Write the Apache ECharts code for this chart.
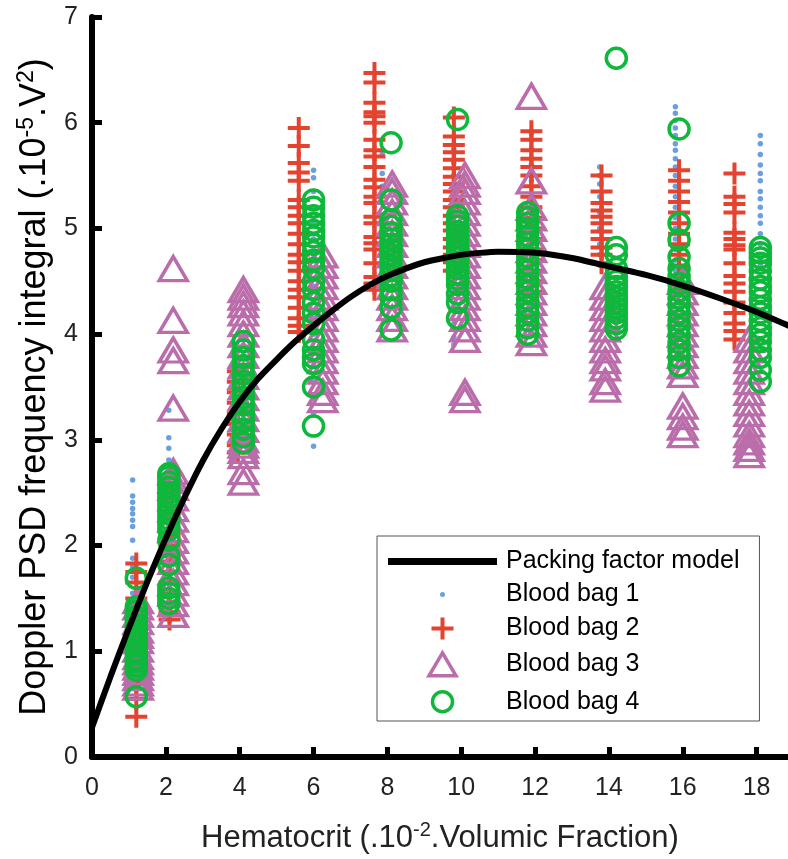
<!DOCTYPE html>
<html>
<head>
<meta charset="utf-8">
<script src="https://cdn.jsdelivr.net/npm/echarts@6/dist/echarts.min.js"></script>
<style>
html,body{margin:0;padding:0;background:#fff;}
#chart{width:788px;height:859px;}
</style>
</head>
<body>
<div id="chart"></div>
<script>
// ---- Data ----
const xTicks = [0, 2, 4, 6, 8, 10, 12, 14, 16, 18];
const yTicks = [0, 1, 2, 3, 4, 5, 6, 7];

const modelX = [0, 0.5, 1, 1.5, 2, 2.5, 3, 3.5, 4, 4.5, 5, 5.5, 6, 6.5, 7, 7.5, 8, 9, 10, 11, 12, 13, 14, 15, 16, 17, 18, 19];
const modelY = [0.28, 0.76, 1.22, 1.66, 2.07, 2.45, 2.8, 3.1, 3.36, 3.58, 3.76, 3.93, 4.08, 4.22, 4.35, 4.46, 4.55, 4.68, 4.75, 4.78, 4.77, 4.72, 4.64, 4.56, 4.46, 4.34, 4.21, 4.06];

const bag1X = [1.1, 2.08, 4.1, 6.0, 7.86, 9.8, 11.9, 13.75, 15.8, 18.1];
const bag1Y = [
  [2.62, 2.47, 2.41, 2.35, 2.3, 2.24, 2.18, 2.05, 1.88, 1.8, 1.7, 1.55, 1.4, 1.3, 1.2, 1.1, 1.0, 0.9],
  [3.28, 3.02, 2.92, 2.81, 2.7, 2.6, 2.5, 2.4, 2.3, 2.2, 2.1, 2.0, 1.9, 1.8],
  [4.2, 4.1, 3.95, 3.8, 3.65, 3.5, 3.35, 3.2, 3.05, 2.98],
  [5.55, 5.48, 5.35, 5.2, 5.05, 4.9, 4.75, 4.6, 4.45, 4.3, 4.15, 4.0, 3.85, 3.7, 3.55, 3.4, 3.25, 2.94],
  [5.71, 5.52, 5.4, 5.25, 5.1, 4.95, 4.8, 4.65, 4.5, 4.35],
  [5.75, 5.62, 5.5, 5.4, 5.3, 5.15, 5.0, 4.85, 4.7, 4.55, 4.4, 4.25, 4.1, 3.97, 3.9],
  [5.9, 5.75, 5.6, 5.45, 5.3, 5.15, 5.0, 4.85, 4.7, 4.55, 4.4, 4.25, 4.1],
  [5.58, 5.5, 5.42, 5.3, 5.15, 5.0, 4.85, 4.75, 4.65],
  [6.15, 6.09, 6.02, 5.95, 5.88, 5.8, 5.74, 5.66, 5.58, 5.5, 5.4, 5.3, 5.2, 5.1, 5.0, 4.9, 4.8, 4.7, 4.6, 4.5],
  [5.88, 5.8, 5.7, 5.6, 5.52, 5.45, 5.35, 5.28, 5.2, 5.12, 5.05, 4.95, 4.85, 4.75, 4.65]
];

const bag2X = [1.2, 2.1, 3.95, 5.6, 7.65, 9.8, 11.9, 13.8, 15.9, 17.4];
const bag2Y = [
  [1.83, 1.75, 1.65, 1.5, 1.4, 1.3, 1.2, 1.1, 1.0, 0.9, 0.8, 0.7, 0.55, 0.38],
  [2.65, 2.5, 2.3, 2.1, 2.0, 1.9, 1.85, 1.75, 1.65, 1.55, 1.45, 1.37, 1.3],
  [3.65, 3.55, 3.45, 3.35, 3.25, 3.15, 3.05, 2.95, 2.88],
  [5.95, 5.78, 5.62, 5.53, 5.45, 5.27, 5.2, 5.12, 5.05, 4.95, 4.85, 4.75, 4.68, 4.6, 4.5, 4.42, 4.35, 4.25, 4.15, 4.08, 4.02],
  [6.47, 6.38, 6.19, 6.1, 6.06, 6.0, 5.84, 5.74, 5.68, 5.58, 5.46, 5.39, 5.3, 5.24, 5.11, 5.05, 4.92, 4.86, 4.8, 4.67, 4.54, 4.48, 4.42],
  [6.05, 5.87, 5.79, 5.72, 5.65, 5.57, 5.49, 5.42, 5.35, 5.27, 5.2, 5.12, 5.05, 4.98, 4.9, 4.82, 4.75, 4.68, 4.6],
  [5.92, 5.84, 5.74, 5.66, 5.58, 5.5, 5.4, 5.3, 5.2, 5.1, 5.0, 4.9, 4.8, 4.7, 4.6, 4.5, 4.4],
  [5.5, 5.35, 5.24, 5.17, 5.11, 5.05, 4.97, 4.9, 4.82, 4.75, 4.67],
  [5.55, 5.45, 5.35, 5.25, 5.15, 5.05, 4.95, 4.85, 4.75, 4.65, 4.55, 4.45],
  [5.52, 5.3, 5.23, 5.15, 4.96, 4.9, 4.84, 4.8, 4.67, 4.55, 4.48, 4.4, 4.3, 4.2, 4.1, 4.03, 3.95]
];

const bag3X = [1.25, 2.2, 4.1, 6.25, 8.13, 10.1, 11.9, 13.9, 16.0, 17.8];
const bag3Y = [
  [1.48, 1.42, 1.35, 1.28, 1.2, 1.15, 1.1, 1.02, 0.95, 0.9, 0.85, 0.8, 0.75, 0.7, 0.66],
  [4.62, 4.13, 3.85, 3.75, 3.3, 2.7, 2.62, 2.55, 2.45, 2.35, 2.25, 2.15, 2.05, 1.95, 1.85, 1.75, 1.65, 1.55, 1.45, 1.35],
  [4.42, 4.35, 4.28, 4.2, 4.1, 4.0, 3.9, 3.8, 3.7, 3.6, 3.5, 3.4, 3.3, 3.2, 3.1, 3.0, 2.95, 2.9, 2.85, 2.7, 2.6],
  [4.75, 4.65, 4.55, 4.45, 4.35, 4.25, 4.15, 4.05, 3.95, 3.85, 3.75, 3.65, 3.55, 3.45, 3.38],
  [5.42, 5.35, 5.25, 5.15, 5.05, 4.95, 4.85, 4.75, 4.65, 4.55, 4.45, 4.35, 4.25, 4.15, 4.05],
  [5.5, 5.42, 5.35, 5.25, 5.15, 5.05, 4.95, 4.85, 4.75, 4.65, 4.55, 4.45, 4.35, 4.25, 4.15, 4.05, 3.95, 3.45, 3.38],
  [6.25, 5.45, 5.2, 5.1, 5.0, 4.9, 4.8, 4.7, 4.6, 4.5, 4.4, 4.3, 4.2, 4.1, 4.0, 3.92],
  [4.45, 4.35, 4.25, 4.15, 4.05, 3.95, 3.85, 3.75, 3.68, 3.55, 3.48],
  [4.5, 4.4, 4.3, 4.2, 4.1, 4.0, 3.9, 3.8, 3.7, 3.62, 3.32, 3.22, 3.12, 3.05],
  [3.95, 3.85, 3.75, 3.65, 3.55, 3.45, 3.35, 3.25, 3.15, 3.05, 2.98, 2.92, 2.86]
];

const bag4X = [1.2, 2.08, 4.1, 6.0, 8.1, 9.9, 11.8, 14.2, 15.9, 18.1];
const bag4Y = [
  [1.69, 1.42, 1.38, 1.33, 1.3, 1.25, 1.2, 1.17, 1.12, 1.08, 1.05, 1.0, 0.97, 0.93, 0.9, 0.86, 0.82, 0.57],
  [2.68, 2.65, 2.6, 2.55, 2.5, 2.45, 2.4, 2.35, 2.3, 2.25, 2.2, 2.15, 2.05, 1.9, 1.82, 1.6, 1.55, 1.5, 1.45],
  [3.93, 3.85, 3.78, 3.7, 3.62, 3.55, 3.48, 3.4, 3.33, 3.25, 3.18, 3.1, 3.03, 2.97],
  [5.27, 5.2, 5.12, 5.05, 4.98, 4.92, 4.85, 4.78, 4.7, 4.62, 4.5, 4.42, 4.3, 4.2, 4.1, 3.95, 3.85, 3.78, 3.72, 3.5, 3.13],
  [5.81, 5.27, 5.08, 5.02, 4.96, 4.9, 4.85, 4.8, 4.75, 4.7, 4.65, 4.6, 4.55, 4.5, 4.42, 4.35, 4.25, 4.04],
  [6.03, 5.12, 5.07, 5.02, 4.97, 4.92, 4.87, 4.82, 4.77, 4.72, 4.67, 4.62, 4.57, 4.52, 4.47, 4.38, 4.3, 4.15],
  [5.15, 5.1, 5.05, 5.0, 4.93, 4.86, 4.8, 4.73, 4.66, 4.6, 4.53, 4.46, 4.4, 4.33, 4.26, 4.2, 4.13, 4.06, 4.0],
  [6.61, 4.82, 4.75, 4.62, 4.55, 4.5, 4.45, 4.4, 4.35, 4.3, 4.25, 4.2, 4.15, 4.1, 4.05],
  [5.94, 5.05, 4.89, 4.73, 4.62, 4.55, 4.48, 4.41, 4.34, 4.27, 4.2, 4.13, 4.06, 3.99, 3.92, 3.85, 3.78, 3.7],
  [4.82, 4.77, 4.72, 4.67, 4.6, 4.52, 4.45, 4.4, 4.33, 4.26, 4.2, 4.13, 4.06, 4.0, 3.93, 3.85, 3.78, 3.66, 3.55]
];

const names = ['Packing factor model', 'Blood bag 1', 'Blood bag 2', 'Blood bag 3', 'Blood bag 4'];

// ---- build pairs ----
function pairs(xs, ys) {
  const out = [];
  xs.forEach((x, i) => ys[i].forEach(y => out.push([x, y])));
  return out;
}
const modelData = modelX.map((x, i) => [x, modelY[i]]);

const FONT = '"Liberation Sans", Arial, Helvetica, sans-serif';
const C_BLUE = '#6B9FDF', C_RED = '#E4432F', C_PURPLE = '#BA6DAA', C_GREEN = '#0DB83A';

const plusPath = 'path://M9,0H13V9H22V13H13V22H9V13H0V9H9Z';
const legLine = 'path://M0,0H109V7H0Z';
const legDot = 'path://M0,0M27,27M11,13.5a2.5,2.5 0 1,0 5,0a2.5,2.5 0 1,0 -5,0Z';
const legPlus = 'path://M0,0M27,27M11.5,2.5H15.5V11.5H24.5V15.5H15.5V24.5H11.5V15.5H2.5V11.5H11.5Z';
const legTri = 'path://M0,0M31,27M15.5,2.2L29,25H2Z';
const legCirc = 'path://M0,0M27,27M3.5,13.5a10,10 0 1,0 20,0a10,10 0 1,0 -20,0Z';

const chart = echarts.init(document.getElementById('chart'), null, {renderer: 'canvas'});

const xRich = {
  t: {fontSize: 31, fontFamily: FONT, color: '#222', lineHeight: 36, verticalAlign: 'middle'},
  s: {fontSize: 20, fontFamily: FONT, color: '#222', lineHeight: 22, verticalAlign: 'top'}
};
const yRich = {
  t: {fontSize: 36, fontFamily: FONT, color: '#000', lineHeight: 40, verticalAlign: 'middle'},
  s: {fontSize: 23, fontFamily: FONT, color: '#000', lineHeight: 23, verticalAlign: 'top'}
};

const option = {
  animation: false,
  backgroundColor: '#fff',
  grid: {left: 92, right: 0, top: 17, bottom: 102, containLabel: false},
  xAxis: {
    type: 'value', min: 0, max: 18.85,
    name: '{t|Hematocrit (.10}{s|-2}{t|.Volumic Fraction)}',
    nameLocation: 'middle', nameGap: 63,
    nameTextStyle: {rich: xRich},
    axisLine: {show: true, onZero: false, lineStyle: {color: '#000', width: 6}},
    axisTick: {show: true, inside: true, length: 10, customValues: xTicks, lineStyle: {color: '#000', width: 5}},
    axisLabel: {customValues: xTicks, fontSize: 25, fontFamily: FONT, color: '#222', margin: 19},
    splitLine: {show: false}
  },
  yAxis: {
    type: 'value', min: 0, max: 7, interval: 1,
    name: '{t|Doppler PSD frequency integral (.10}{s|-5}{t|.V}{s|2}{t|)}',
    nameLocation: 'middle', nameGap: 34,
    nameTextStyle: {rich: yRich},
    axisLine: {show: true, lineStyle: {color: '#000', width: 6}},
    axisTick: {show: true, inside: true, length: 10, customValues: yTicks, lineStyle: {color: '#000', width: 5}},
    axisLabel: {customValues: yTicks, fontSize: 25, fontFamily: FONT, color: '#222', margin: 14},
    splitLine: {show: false}
  },
  legend: {
    orient: 'vertical', left: 377, top: 536,
    padding: [13, 20, 4, 11],
    itemWidth: 109, itemHeight: 27, itemGap: 7,
    borderColor: '#555', borderWidth: 1, backgroundColor: '#fff',
    textStyle: {fontSize: 25, fontFamily: FONT, color: '#000', padding: [0, 0, 0, 4]},
    selectedMode: false,
    data: [
      {name: names[0], icon: legLine, itemStyle: {color: '#000', borderWidth: 0}},
      {name: names[1], icon: legDot, itemStyle: {color: C_BLUE, borderWidth: 0}},
      {name: names[2], icon: legPlus, itemStyle: {color: C_RED, borderWidth: 0}},
      {name: names[3], icon: legTri, itemStyle: {color: 'rgba(0,0,0,0)', borderColor: C_PURPLE, borderWidth: 3.5}},
      {name: names[4], icon: legCirc, itemStyle: {color: 'rgba(0,0,0,0)', borderColor: C_GREEN, borderWidth: 3.5}}
    ]
  },
  series: [
    {
      name: names[1], type: 'scatter', data: pairs(bag1X, bag1Y),
      symbol: 'circle', symbolSize: 5.5, silent: true,
      itemStyle: {color: C_BLUE, opacity: 1}
    },
    {
      name: names[2], type: 'scatter', data: pairs(bag2X, bag2Y),
      symbol: plusPath, symbolSize: 22, silent: true,
      itemStyle: {color: C_RED, opacity: 1}
    },
    {
      name: names[3], type: 'scatter', data: pairs(bag3X, bag3Y),
      symbol: 'triangle', symbolSize: [28, 24], silent: true,
      itemStyle: {color: 'rgba(0,0,0,0)', borderColor: C_PURPLE, borderWidth: 3.5, opacity: 1}
    },
    {
      name: names[0], type: 'line', data: modelData, smooth: 0.2,
      symbol: 'none', showSymbol: false, silent: true, clip: true,
      lineStyle: {color: '#000', width: 6},
      itemStyle: {color: '#000'}
    },
    {
      name: names[4], type: 'scatter', data: pairs(bag4X, bag4Y),
      symbol: 'circle', symbolSize: 20, silent: true,
      itemStyle: {color: 'rgba(0,0,0,0)', borderColor: C_GREEN, borderWidth: 3.5, opacity: 1}
    }
  ]
};
chart.setOption(option);
</script>
</body>
</html>
